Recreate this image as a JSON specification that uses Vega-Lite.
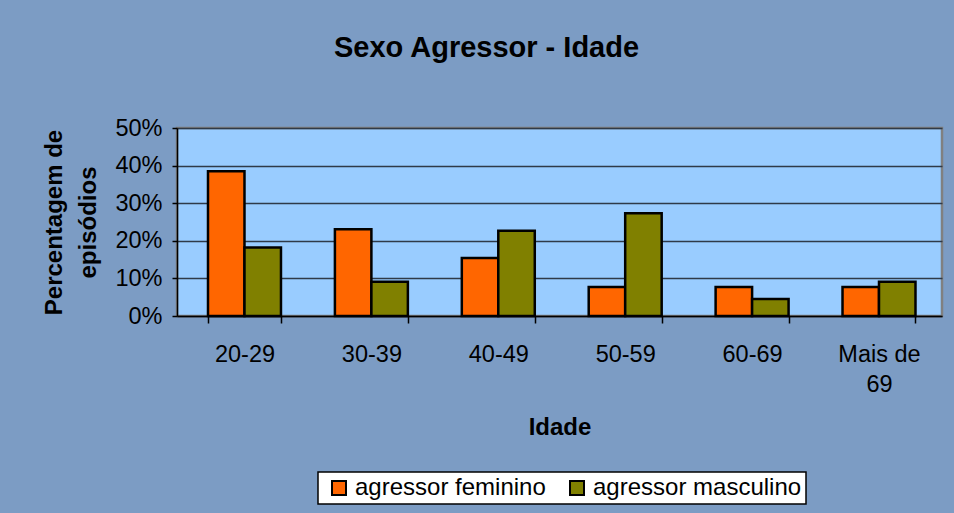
{
  "$schema": "https://vega.github.io/schema/vega-lite/v6.json",
  "width": 765,
  "height": 188,
  "autosize": {"type": "none"},
  "padding": {"left": 177, "top": 128, "right": 12, "bottom": 197},
  "background": "#7C9CC4",
  "title": {
    "text": "Sexo Agressor - Idade",
    "fontSize": 29,
    "fontWeight": "bold",
    "font": "Liberation Sans",
    "color": "black",
    "anchor": "middle",
    "dx": -73,
    "offset": 53
  },
  "data": {
    "values": [
      {"idade": "20-29", "sexo": "agressor feminino", "pct": 0.385},
      {"idade": "30-39", "sexo": "agressor feminino", "pct": 0.231},
      {"idade": "40-49", "sexo": "agressor feminino", "pct": 0.154},
      {"idade": "50-59", "sexo": "agressor feminino", "pct": 0.077},
      {"idade": "60-69", "sexo": "agressor feminino", "pct": 0.077},
      {"idade": "Mais de 69", "sexo": "agressor feminino", "pct": 0.077},
      {"idade": "20-29", "sexo": "agressor masculino", "pct": 0.182},
      {"idade": "30-39", "sexo": "agressor masculino", "pct": 0.091},
      {"idade": "40-49", "sexo": "agressor masculino", "pct": 0.227},
      {"idade": "50-59", "sexo": "agressor masculino", "pct": 0.273},
      {"idade": "60-69", "sexo": "agressor masculino", "pct": 0.045},
      {"idade": "Mais de 69", "sexo": "agressor masculino", "pct": 0.091}
    ]
  },
  "mark": {"type": "bar", "stroke": "black", "strokeWidth": 2.5},
  "encoding": {
    "x": {
      "field": "idade",
      "type": "nominal",
      "sort": ["20-29", "30-39", "40-49", "50-59", "60-69", "Mais de 69"],
      "scale": {"paddingInner": 0.425, "paddingOuter": 0.2266, "align": 0.539},
      "axis": {
        "domainColor": "black",
        "domainWidth": 1.5,
        "tickColor": "black",
        "tickWidth": 1.5,
        "tickBand": "extent",
        "tickSize": 7,
        "labelAngle": 0,
        "labelFont": "Liberation Sans",
        "labelFontSize": 23.5,
        "labelColor": "black",
        "labelPadding": 19,
        "labelLineHeight": 30.5,
        "labelExpr": "datum.value == 'Mais de 69' ? ['Mais de', '69'] : datum.value",
        "title": "Idade",
        "titleFont": "Liberation Sans",
        "titleFontSize": 24,
        "titleFontWeight": "bold",
        "titleColor": "black",
        "titlePadding": 19,
        "grid": false
      }
    },
    "xOffset": {"field": "sexo", "sort": ["agressor feminino", "agressor masculino"]},
    "y": {
      "field": "pct",
      "type": "quantitative",
      "scale": {"domain": [0, 0.5]},
      "axis": {
        "values": [0, 0.1, 0.2, 0.3, 0.4, 0.5],
        "format": ".0%",
        "grid": true,
        "gridColor": "#2F3A48",
        "gridWidth": 1.5,
        "domainColor": "black",
        "domainWidth": 1.5,
        "tickColor": "black",
        "tickWidth": 1.5,
        "tickSize": 5,
        "labelFont": "Liberation Sans",
        "labelFontSize": 23.5,
        "labelColor": "black",
        "labelPadding": 10,
        "title": ["Percentagem de", "episódios"],
        "titleFont": "Liberation Sans",
        "titleFontSize": 24,
        "titleFontWeight": "bold",
        "titleColor": "black",
        "titleLineHeight": 34,
        "titlePadding": 14
      }
    },
    "color": {
      "field": "sexo",
      "type": "nominal",
      "scale": {"domain": ["agressor feminino", "agressor masculino"], "range": ["#FF6600", "#808000"]},
      "legend": {
        "orient": "none",
        "legendX": 141,
        "legendY": 344,
        "direction": "horizontal",
        "title": null,
        "fillColor": "white",
        "strokeColor": "black",
        "padding": 4,
        "labelFont": "Liberation Sans",
        "labelFontSize": 24,
        "labelColor": "black",
        "labelLimit": 400,
        "labelOffset": 4,
        "columnPadding": 14,
        "symbolOffset": 5,
        "symbolType": "square",
        "symbolSize": 196,
        "symbolStrokeColor": "black",
        "symbolStrokeWidth": 2,
        "symbolOpacity": 1
      }
    }
  },
  "config": {
    "view": {"fill": "#99CCFF", "stroke": "#808080", "strokeWidth": 2.5},
    "legend": {"strokeWidth": 1.5}
  }
}
